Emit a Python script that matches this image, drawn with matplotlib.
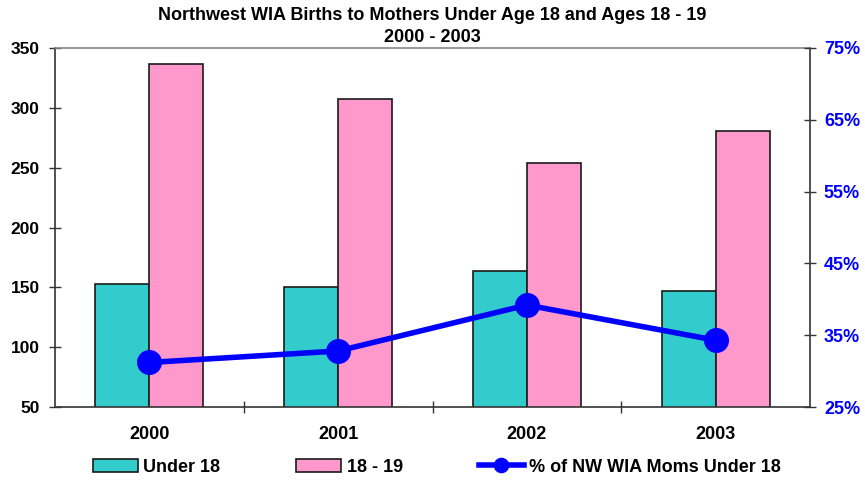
import matplotlib.pyplot as plt
import numpy as np
from matplotlib.ticker import FixedLocator

# Datos
anos = ['2000', '2001', '2002', '2003']
menores_18 = [153, 150, 164, 147]
de_18_a_19 = [337, 307, 254, 281]
pct_menores = [31.2, 32.8, 39.2, 34.3]

plt.rcParams['font.family'] = ['Liberation Sans', 'DejaVu Sans']
plt.rcParams['font.weight'] = 'bold'

fig = plt.figure(figsize=(8.65, 4.87), dpi=100)
ax = fig.add_axes([55 / 865, 1 - 407 / 487, 755 / 865, 359 / 487])

x = np.arange(len(anos))
ancho = 0.286
ax.bar(x - ancho / 2, menores_18, ancho, color='#33CCCC', edgecolor='#1a1a1a',
       linewidth=1.2, label='Under 18', zorder=2)
ax.bar(x + ancho / 2, de_18_a_19, ancho, color='#FF99CC', edgecolor='#1a1a1a',
       linewidth=1.2, label='18 - 19', zorder=2)

ax.set_xlim(-0.5, 3.5)
ax.set_ylim(50, 350)
ax.set_yticks(range(50, 351, 50))
ax.set_xticks(x)
ax.set_xticklabels(anos, fontsize=13, fontweight='bold')
ax.xaxis.set_minor_locator(FixedLocator([0.5, 1.5, 2.5]))
ax.tick_params(axis='x', which='major', length=0, pad=14)
ax.tick_params(axis='x', which='minor', direction='inout', length=8, width=1, color='#333333')
ax.tick_params(axis='y', direction='inout', length=8, width=1, color='#333333',
               labelsize=12.5, pad=7)
for lbl in ax.get_yticklabels():
    lbl.set_fontweight('bold')
for s in ax.spines.values():
    s.set_color('#333333')
    s.set_linewidth(1.2)
ax.spines['top'].set_color('#888888')

# Eje derecho con el porcentaje
ax2 = ax.twinx()
ax2.plot(x, pct_menores, color='#0000FF', linewidth=4, marker='o', markersize=17,
         label='% of NW WIA Moms Under 18', zorder=3)
ax2.set_ylim(25, 75)
ax2.set_yticks(range(25, 76, 10))
ax2.set_yticklabels([f'{v}%' for v in range(25, 76, 10)], color='#0000FF',
                    fontsize=13, fontweight='bold')
ax2.tick_params(axis='y', direction='inout', length=8, width=1, color='#333333', pad=6)
for s in ax2.spines.values():
    s.set_visible(False)

fig.text(0.5, 1 - 16 / 487, 'Northwest WIA Births to Mothers Under Age 18 and Ages 18 - 19',
         ha='center', va='center', fontsize=13, fontweight='bold')
fig.text(0.5, 1 - 38 / 487, '2000 - 2003', ha='center', va='center',
         fontsize=13, fontweight='bold')

h1, l1 = ax.get_legend_handles_labels()
h2, l2 = ax2.get_legend_handles_labels()
fig.legend(h1 + h2, l1 + l2, loc='center', bbox_to_anchor=(0.505, 1 - 467 / 487),
           ncol=3, frameon=False, fontsize=13, columnspacing=4.2, handlelength=2.5,
           handletextpad=0.3, markerscale=0.6)

plt.savefig('out.png', dpi=100)
plt.close()
